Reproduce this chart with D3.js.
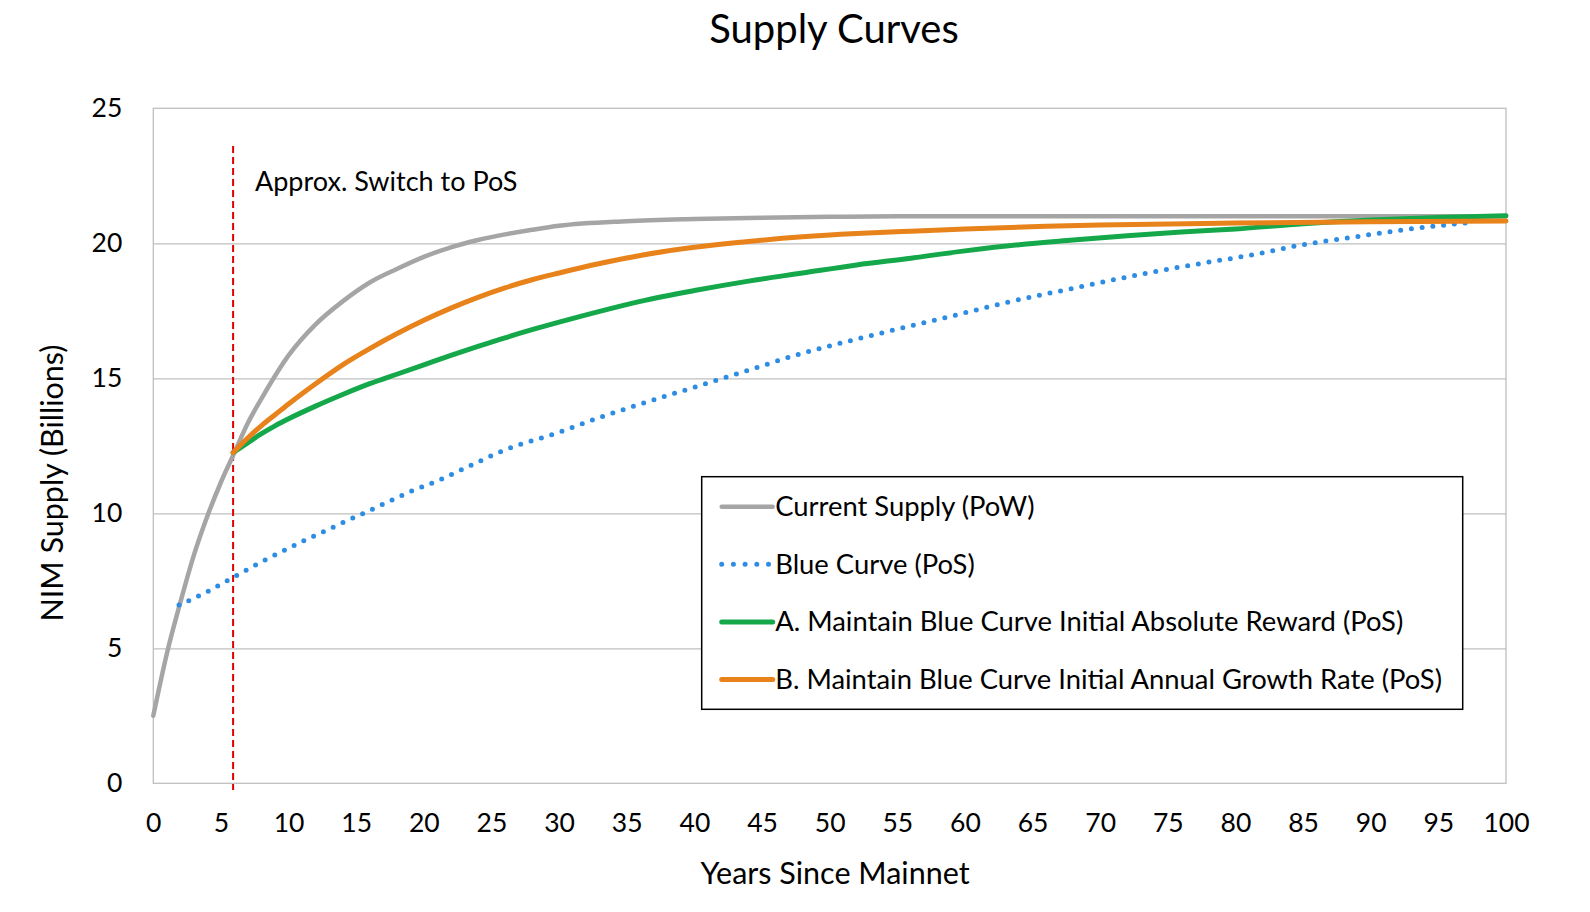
<!DOCTYPE html>
<html>
<head>
<meta charset="utf-8">
<script src="https://cdn.jsdelivr.net/npm/d3@7"></script>
<style>
  body { margin: 0; background: #fff; }
  text { font-family: Lato, "Open Sans", sans-serif; fill: #000; }
</style>
</head>
<body>
<svg width="1590" height="912"></svg>
<script>
// values (NIM supply, billions)
var powYears   = [0, 1, 2, 3, 4, 5, 6, 7, 8, 10, 12, 14, 16, 18, 20, 22, 24, 26, 28, 30, 35, 40, 45, 50, 55, 60, 70, 80, 90, 100];
var powSupply  = [2.5, 4.8, 6.7, 8.45, 9.9, 11.15, 12.25, 13.35, 14.25, 15.85, 17.0, 17.85, 18.55, 19.05, 19.5, 19.85, 20.12, 20.33, 20.5, 20.65, 20.82, 20.9, 20.95, 20.98, 21.0, 21.0, 21.0, 21.0, 21.0, 21.0];

var blueYears  = [1.9, 4, 6, 8, 11, 14, 16.4, 19, 21, 24, 26, 30, 33, 37, 40.5, 44, 48, 52, 55, 59, 63, 67, 71, 74, 78, 81, 85, 89, 92, 95, 97.2];
var blueSupply = [6.6, 7.1, 7.65, 8.2, 8.95, 9.65, 10.2, 10.8, 11.2, 11.9, 12.35, 13.0, 13.55, 14.2, 14.75, 15.3, 15.93, 16.45, 16.82, 17.3, 17.8, 18.23, 18.65, 18.95, 19.3, 19.55, 19.95, 20.25, 20.47, 20.65, 20.76];

var aYears     = [5.9, 7, 8, 9, 10, 12, 14, 16, 18, 20, 22, 24, 26, 28, 30, 33, 36, 40, 44, 48, 52, 56, 60, 64, 68, 72, 76, 80, 85, 90, 95, 100];
var aSupply    = [12.25, 12.62, 12.95, 13.24, 13.5, 13.97, 14.4, 14.8, 15.15, 15.5, 15.85, 16.18, 16.5, 16.8, 17.08, 17.48, 17.85, 18.25, 18.6, 18.9, 19.2, 19.45, 19.72, 19.95, 20.12, 20.28, 20.42, 20.53, 20.72, 20.86, 20.96, 21.02];

var bYears     = [5.9, 7, 8, 9, 10, 12, 14, 16, 18, 20, 22, 24, 26, 28, 30, 33, 36, 40, 44, 48, 52, 56, 60, 66, 70, 80, 90, 100];
var bSupply    = [12.25, 12.8, 13.25, 13.65, 14.05, 14.8, 15.5, 16.1, 16.65, 17.15, 17.6, 18.0, 18.35, 18.65, 18.9, 19.25, 19.55, 19.85, 20.07, 20.24, 20.36, 20.45, 20.53, 20.63, 20.68, 20.75, 20.8, 20.83];

var seriesNames = [
    "Current Supply (PoW)",
    "Blue Curve (PoS)",
    "A. Maintain Blue Curve Initial Absolute Reward (PoS)",
    "B. Maintain Blue Curve Initial Annual Growth Rate (PoS)"
];

var xTicks = d3.range(0, 101, 5);
var yTicks = [0, 5, 10, 15, 20, 25];
var switchYear = 5.9;

var colorPow = "#a5a5a5";
var colorBlue = "#2e8de3";
var colorA = "#14a84b";
var colorB = "#e8821b";
var colorGrid = "#bfbfbf";

var canvas = d3.select("svg");
var iWidth = +canvas.attr("width");
var iHeight = +canvas.attr("height");

var margin = { top: 108.3, right: 84, bottom: 128.7, left: 153.3 };
var iInnerWidth = iWidth - margin.left - margin.right;
var iInnerHeight = iHeight - margin.top - margin.bottom;

canvas.append("rect").attr("width", iWidth).attr("height", iHeight).attr("fill", "#fff");

var xScale = d3.scaleLinear().domain([0, 100]).range([0, iInnerWidth]);
var yScale = d3.scaleLinear().domain([0, 25]).range([iInnerHeight, 0]);

var plot = canvas.append("g")
    .attr("transform", `translate(${margin.left},${margin.top})`);

// gridlines
plot.append("g")
    .call(d3.axisLeft(yScale).tickValues(yTicks.slice(1, -1)).tickSize(-iInnerWidth).tickFormat(""))
    .call(g => g.select(".domain").remove())
    .selectAll("line").attr("stroke", colorGrid).attr("stroke-width", 1.3);

// plot area border
plot.append("rect")
    .attr("width", iInnerWidth).attr("height", iInnerHeight)
    .attr("fill", "none").attr("stroke", colorGrid).attr("stroke-width", 1.3);

// axes labels
var xAxis = plot.append("g")
    .attr("transform", `translate(0,${iInnerHeight})`)
    .call(d3.axisBottom(xScale).tickValues(xTicks).tickSize(0).tickPadding(30));
xAxis.select(".domain").remove();
xAxis.selectAll("text").style("font-size", "26.5px").style("font-family", "Lato");

var yAxis = plot.append("g")
    .call(d3.axisLeft(yScale).tickValues(yTicks).tickSize(0).tickPadding(31));
yAxis.select(".domain").remove();
yAxis.selectAll("text").style("font-size", "26.5px").style("font-family", "Lato");

// switch marker
plot.append("line")
    .attr("x1", xScale(switchYear)).attr("x2", xScale(switchYear))
    .attr("y1", yScale(23.6)).attr("y2", yScale(-0.25))
    .attr("stroke", "#e00000").attr("stroke-width", 2)
    .attr("stroke-dasharray", "7,4");

plot.append("text")
    .attr("x", 255 - margin.left).attr("y", 190.7 - margin.top)
    .style("font-size", "27px")
    .text("Approx. Switch to PoS");

var line = d3.line()
    .x(d => xScale(d[0]))
    .y(d => yScale(d[1]))
    .curve(d3.curveMonotoneX);

function pairs(xs, ys) {
    return xs.map((x, i) => [x, ys[i]]);
}

var series = [
    { name: seriesNames[0], data: pairs(powYears, powSupply), color: colorPow, dash: null, width: 4.5 },
    { name: seriesNames[1], data: pairs(blueYears, blueSupply), color: colorBlue, dash: "0,10.8", width: 5 },
    { name: seriesNames[2], data: pairs(aYears, aSupply), color: colorA, dash: null, width: 5 },
    { name: seriesNames[3], data: pairs(bYears, bSupply), color: colorB, dash: null, width: 5 }
];

plot.selectAll(".series")
    .data(series)
    .enter()
    .append("path")
    .attr("class", "series")
    .attr("d", d => line(d.data))
    .attr("fill", "none")
    .attr("stroke", d => d.color)
    .attr("stroke-width", d => d.width)
    .attr("stroke-linecap", "round")
    .attr("stroke-linejoin", "round")
    .attr("stroke-dasharray", d => d.dash);

// legend
var legend = canvas.append("g").attr("transform", "translate(701.7,476.7)");
legend.append("rect")
    .attr("width", 761).attr("height", 232.6)
    .attr("fill", "#fff").attr("stroke", "#000").attr("stroke-width", 1.5);

var rows = legend.selectAll(".row")
    .data(series)
    .enter()
    .append("g")
    .attr("transform", (d, i) => `translate(0,${30 + i * 57.6})`);

rows.append("line")
    .attr("x1", 20).attr("x2", 71)
    .attr("stroke", d => d.color)
    .attr("stroke-width", d => d.width)
    .attr("stroke-linecap", "round")
    .attr("stroke-dasharray", d => d.dash ? "0,11.7" : null);

rows.append("text")
    .attr("x", 73.5)
    .attr("dy", "0.35em")
    .style("font-size", "27.4px")
    .text(d => d.name);

// titles
canvas.append("text")
    .attr("x", 834).attr("y", 43)
    .attr("text-anchor", "middle")
    .style("font-size", "40px")
    .text("Supply Curves");

canvas.append("text")
    .attr("x", 835).attr("y", 884)
    .attr("text-anchor", "middle")
    .style("font-size", "30.5px")
    .text("Years Since Mainnet");

canvas.append("text")
    .attr("transform", "translate(63,483) rotate(-90)")
    .attr("text-anchor", "middle")
    .style("font-size", "30.5px")
    .text("NIM Supply (Billions)");
</script>
</body>
</html>
